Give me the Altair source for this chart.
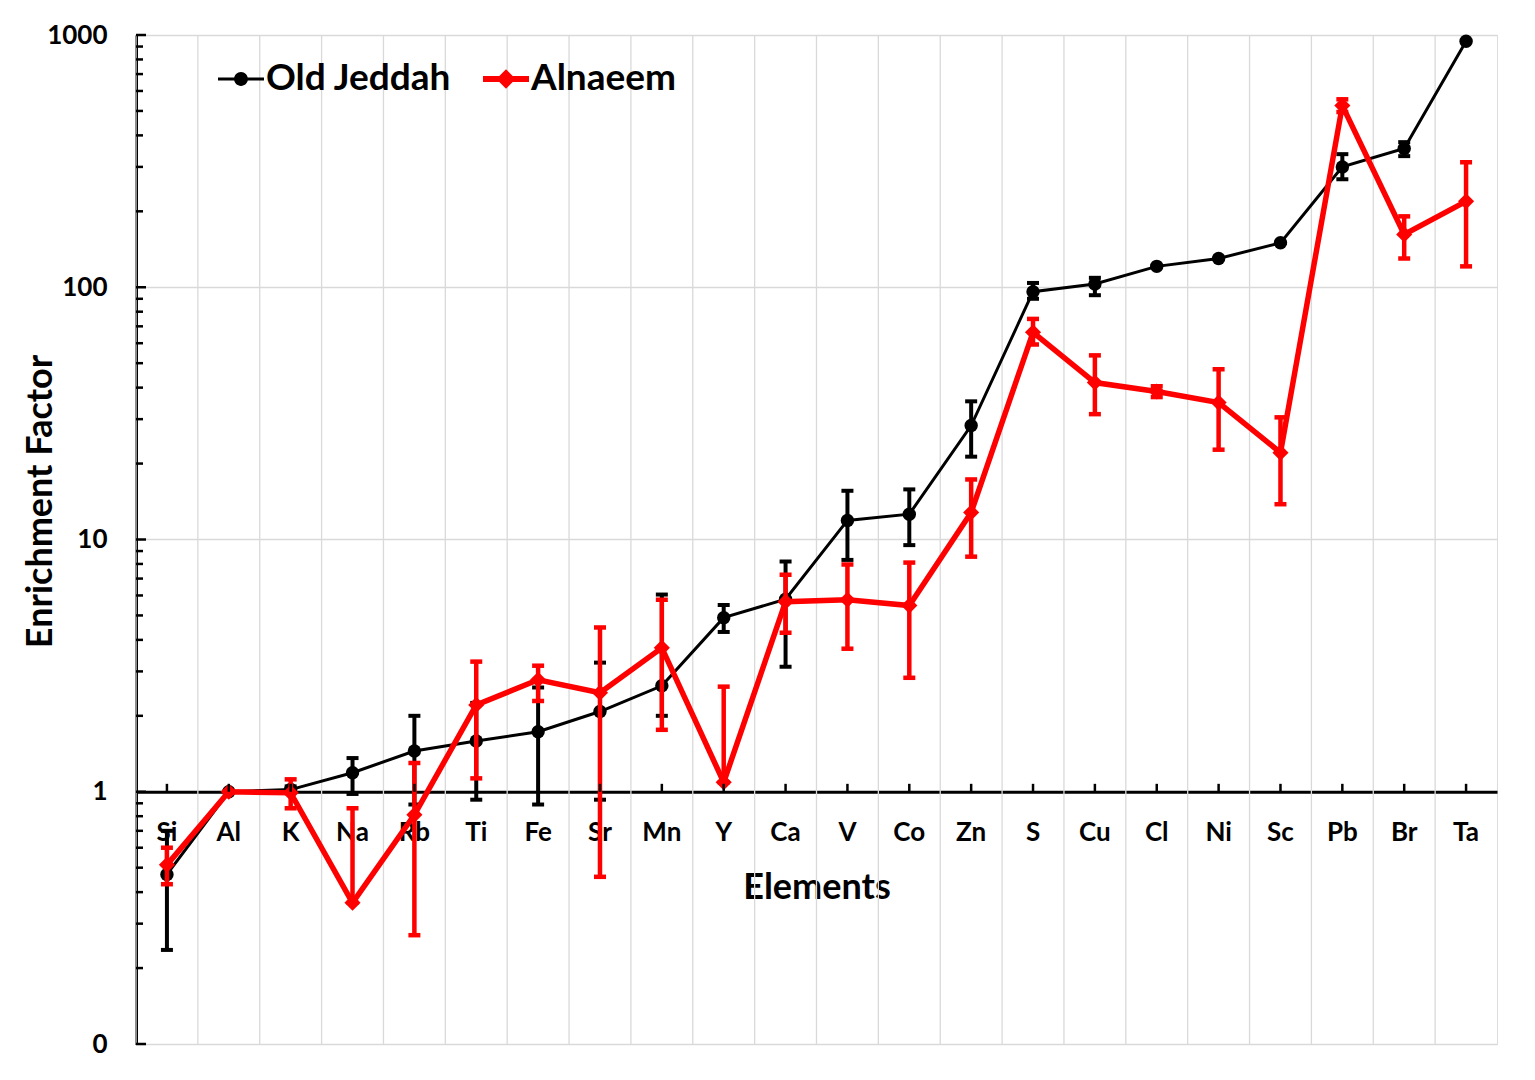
import altair as alt
import pandas as pd

elements = ["Si", "Al", "K", "Na", "Rb", "Ti", "Fe", "Sr", "Mn", "Y", "Ca",
            "V", "Co", "Zn", "S", "Cu", "Cl", "Ni", "Sc", "Pb", "Br", "Ta"]

series_names = ["Old Jeddah", "Alnaeem"]

oj_val = [0.47, 1.0, 1.02, 1.19, 1.45, 1.59, 1.73, 2.08, 2.63, 4.9, 5.8,
          11.9, 12.6, 28.3, 96, 103, 121, 130, 150, 300, 355, 945]
oj_lo = [0.236, 1.0, 1.0, 0.98, 0.89, 0.93, 0.89, 0.93, 2.0, 4.3, 3.13,
         8.3, 9.5, 21.3, 90, 93, 121, 130, 150, 268, 331, 945]
oj_hi = [0.70, 1.0, 1.05, 1.36, 2.0, 2.25, 2.59, 3.25, 6.05, 5.5, 8.18,
         15.6, 15.8, 35.3, 104, 109, 121, 130, 150, 337, 376, 945]

al_val = [0.513, 1.0, 0.99, 0.363, 0.81, 2.21, 2.78, 2.47, 3.72, 1.09, 5.67,
          5.77, 5.47, 12.8, 66.3, 41.9, 38.6, 34.9, 22.1, 525, 162, 219]
al_lo = [0.43, 1.0, 0.86, 0.363, 0.27, 1.13, 2.29, 0.46, 1.76, 1.09, 4.27,
         3.69, 2.83, 8.55, 59.3, 31.4, 36.7, 22.7, 13.8, 495, 130, 121]
al_hi = [0.60, 1.0, 1.12, 0.86, 1.30, 3.28, 3.16, 4.48, 5.77, 2.61, 7.25,
         7.96, 8.1, 17.3, 74.9, 53.7, 40.5, 47.3, 30.5, 556, 191, 313]

major_ticks = [0.1, 1, 10, 100, 1000]
minor_ticks = [m * d for d in [0.1, 1, 10, 100] for m in range(2, 10)]
x_tick_top = 1.075

FONT = "Lato"
W, H = 1361, 1009

rows = []
for i, e in enumerate(elements):
    rows.append(dict(element=e, series="Old Jeddah", value=oj_val[i], lo=oj_lo[i], hi=oj_hi[i]))
for i, e in enumerate(elements):
    rows.append(dict(element=e, series="Alnaeem", value=al_val[i], lo=al_lo[i], hi=al_hi[i]))
df = pd.DataFrame(rows)

xscale = alt.Scale(domain=elements, paddingInner=0, paddingOuter=0)
yscale = alt.Scale(type="log", domain=[0.1, 1000], nice=False)

xaxis = alt.Axis(title="Elements", orient="bottom", offset=-H / 4,
                 labelAngle=0, labelFont=FONT, labelFontSize=26,
                 labelFontWeight="bold", labelColor="black",
                 labelPadding=28, ticks=False, grid=False,
                 domainColor="black", domainWidth=3,
                 titleFont=FONT, titleFontSize=36, titleFontWeight="bold",
                 titleColor="black", titlePadding=25)
yaxis = alt.Axis(title="Enrichment Factor", orient="left",
                 values=major_ticks,
                 labelExpr="datum.value < 1 ? '0' : format(datum.value, 'd')",
                 labelFont=FONT, labelFontSize=26, labelFontWeight="bold",
                 labelColor="black", labelPadding=29, ticks=False,
                 grid=True, gridColor="#d9d9d9", gridWidth=1.3,
                 domainColor="black", domainWidth=3,
                 titleFont=FONT, titleFontSize=36, titleFontWeight="bold",
                 titleColor="black", titleX=-96, titleY=466,
                 titleBaseline="middle")


def xe():
    return alt.X("element:N", scale=xscale, sort=elements, axis=xaxis)


def ye(field):
    return alt.Y(field, scale=yscale, axis=yaxis)


base = alt.Chart(df)

# vertical gridlines at category boundaries
vgrid = alt.Chart(pd.DataFrame({"element": elements})).mark_rule(
    color="#d9d9d9", strokeWidth=1.3).encode(
    x=alt.X("element:N", scale=xscale, sort=elements, bandPosition=0, axis=xaxis),
    y=alt.value(0), y2=alt.value(H))

# y-axis inward ticks
ymajor = alt.Chart(pd.DataFrame({"t": major_ticks})).mark_rule(
    color="black", strokeWidth=2.5).encode(
    y=ye("t:Q"), x=alt.value(0), x2=alt.value(10))
yminor = alt.Chart(pd.DataFrame({"t": minor_ticks})).mark_rule(
    color="black", strokeWidth=2.5).encode(
    y=ye("t:Q"), x=alt.value(0), x2=alt.value(7))

# x-axis inward ticks
xticks = alt.Chart(pd.DataFrame({"element": elements})).mark_rule(
    color="black", strokeWidth=2.5).encode(
    x=xe(), y=alt.datum(1, scale=yscale, axis=yaxis), y2=alt.datum(x_tick_top))


def series_layers(name, color, line_w, shape, size, bar_w):
    d = base.transform_filter(alt.datum.series == name)
    line = d.mark_line(color=color, strokeWidth=line_w).encode(
        x=xe(), y=ye("value:Q"))
    bars = d.mark_rule(color=color, strokeWidth=bar_w).encode(
        x=xe(), y=ye("lo:Q"), y2="hi:Q")
    cap_lo = d.mark_tick(color=color, thickness=bar_w, size=12, opacity=1,
                         orient="horizontal").encode(x=xe(), y=ye("lo:Q"))
    cap_hi = d.mark_tick(color=color, thickness=bar_w, size=12, opacity=1,
                         orient="horizontal").encode(x=xe(), y=ye("hi:Q"))
    pts = d.mark_point(filled=True, color=color, shape=shape, size=size, opacity=1).encode(
        x=xe(), y=ye("value:Q"))
    return [line, bars, cap_lo, cap_hi, pts]


black_path = ("M-1,-0.065H1V0.065H-1Z"
              "M0.3,0A0.3,0.3,0,1,1,-0.3,0A0.3,0.3,0,1,1,0.3,0Z")
red_path = ("M-1,-0.13H1V0.13H-1Z"
            "M-0.42,0L0,-0.42L0.42,0L0,0.42Z")

leg = alt.Legend(title=None, orient="none", legendX=82, legendY=21,
                 direction="horizontal", symbolSize=2116, symbolStrokeWidth=0,
                 symbolOpacity=1, labelFont=FONT, labelFontSize=37,
                 labelFontWeight="bold", labelColor="black", labelOffset=2,
                 columnPadding=31, padding=0, labelLimit=400)
legend_layer = base.transform_filter("datum.value < 0").mark_point(filled=True).encode(
    x=xe(), y=ye("value:Q"),
    color=alt.Color("series:N", scale=alt.Scale(domain=series_names, range=["#000000", "#ff0000"]),
                    legend=leg),
    shape=alt.Shape("series:N", scale=alt.Scale(domain=series_names, range=[black_path, red_path]),
                    legend=leg))

layers = [vgrid]
layers += series_layers("Old Jeddah", "#000000", 3, "circle", 180, 4)
layers += series_layers("Alnaeem", "#ff0000", 5.5, "diamond", 260, 4.5)
layers += [ymajor, yminor, xticks, legend_layer]

chart = alt.layer(*layers).properties(
    width=W, height=H,
    autosize=alt.AutoSizeParams(type="none"),
    padding={"left": 128, "top": 27, "right": 30, "bottom": 20},
).configure_view(stroke="#d9d9d9", strokeWidth=1.3).configure(background="white")

chart.save("out.html", embed_options={"renderer": "svg", "actions": False})
